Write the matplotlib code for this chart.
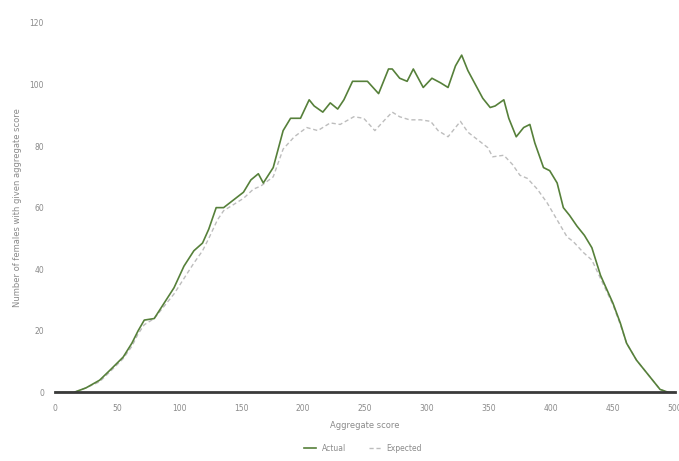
import matplotlib
matplotlib.use("Agg")
import matplotlib.pyplot as plt

# values
actual_x = [0, 15, 25, 36, 45, 55, 62, 67, 72, 80, 88, 96, 104, 112, 119, 124, 130, 136, 144, 152,
            158, 164, 168, 172, 176, 184, 190, 198, 205, 209, 216, 222, 228, 233, 240, 246, 252, 261,
            269, 272, 278, 284, 289, 297, 304, 311, 317, 323, 328, 333, 339, 345, 351, 355, 362, 366,
            372, 378, 383, 387, 394, 399, 405, 410, 415, 421, 427, 433, 440, 450, 456, 461, 469, 480,
            488, 495, 500]
actual_y = [0, 0, 1.5, 4, 7.5, 11.5, 16, 20, 23.5, 24, 29, 34, 41, 46, 48.5, 53, 60, 60, 62.5, 65,
            69, 71, 68, 70.5, 73, 85, 89, 89, 95, 93, 91, 94, 92, 95, 101, 101, 101, 97,
            105, 105, 102, 101, 105, 99, 102, 100.5, 99, 106, 109.5, 104.5, 100, 95.5, 92.5, 93, 95, 89,
            83, 86, 87, 81, 73, 72, 68, 60, 57.5, 54, 51, 47, 38, 29, 22.5, 16, 10.5, 5,
            1, 0, 0]

expected_x = [0, 15, 25, 36, 45, 55, 62, 67, 72, 80, 88, 96, 104, 112, 119, 124, 131, 136, 144, 152,
              160, 166, 176, 184, 193, 203, 212, 222, 230, 241, 249, 258, 266, 272, 278, 286, 295, 303,
              309, 317, 327, 333, 341, 349, 353, 362, 369, 375, 381, 389, 397, 405, 413, 418, 426, 433,
              440, 450, 456, 461, 469, 480, 488, 495, 500]
expected_y = [0, 0, 1.5, 3.5, 7, 11, 15, 19, 22, 24, 28, 32, 37, 42, 46, 50, 56, 59, 61, 63,
              66, 67, 70, 79, 83, 86, 85, 87.5, 87, 89.5, 89, 85, 88.5, 91, 89.5, 88.5, 88.5, 88,
              85, 83, 88, 84.5, 82, 79.5, 76.5, 77, 74, 70.5, 69.5, 66, 61.5, 56, 50.5, 49, 45.5, 43,
              37, 28.5, 22, 16, 10.5, 5, 1, 0, 0]

x_ticks = [0, 50, 100, 150, 200, 250, 300, 350, 400, 450, 500]
y_ticks = [0, 20, 40, 60, 80, 100, 120]

txt = '#8a8a8a'

fig = plt.figure(figsize=(6.79, 4.61), dpi=100)
ax = fig.add_axes([0.081, 0.1486, 0.913, 0.802])

ax.plot(expected_x, expected_y, color='#bdbdbd', lw=1.0, ls=(0, (3, 2)), label='Expected')
ax.plot(actual_x, actual_y, color='#56803a', lw=1.2, label='Actual')

ax.set_xlim(0, 500)
ax.set_ylim(0, 120)
ax.set_xticks(x_ticks)
ax.set_yticks(y_ticks)
ax.tick_params(length=0, labelsize=5.5, labelcolor=txt, pad=8)

for s in ['top', 'right', 'left']:
    ax.spines[s].set_visible(False)
ax.spines['bottom'].set_color('#3a3a3a')
ax.spines['bottom'].set_linewidth(2)
ax.spines['bottom'].set_zorder(5)

ax.set_xlabel('Aggregate score', fontsize=6, color=txt, labelpad=6)
ax.set_ylabel('Number of females with given aggregate score', fontsize=6, color=txt, labelpad=5)

h, l = ax.get_legend_handles_labels()
fig.legend(h[::-1], l[::-1], loc='lower center', bbox_to_anchor=(0.535, 0.003), ncol=2, frameon=False,
           fontsize=5.5, labelcolor=txt, handlelength=1.5, columnspacing=3)

fig.savefig('out.png', dpi=100)
